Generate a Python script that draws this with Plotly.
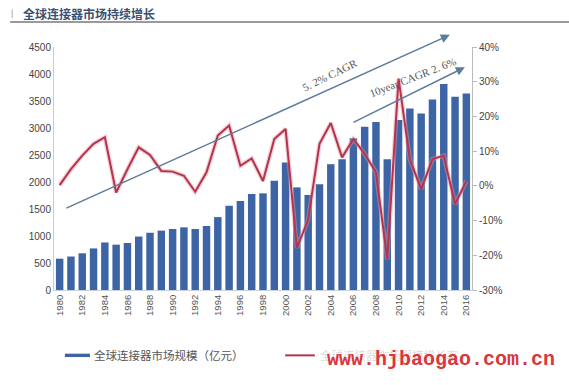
import plotly.graph_objects as go

years = list(range(1980, 2017))
market_size = [580, 620, 680, 770, 880, 840, 870, 990, 1060, 1100,
               1130, 1160, 1130, 1185, 1350, 1560, 1650, 1780, 1790, 2025,
               2360, 1900, 1760, 1960, 2330, 2420, 2810, 3025, 3110, 2420,
               3150, 3360, 3270, 3530, 3815, 3580, 3640]
growth = [0.2, 4.8, 8.7, 12.1, 14.0, -1.9, 4.8, 11.1, 8.9, 4.3,
          4.1, 2.9, -1.7, 3.9, 14.5, 17.4, 5.8, 7.9, 1.4, 13.5,
          16.4, -17.9, -9.7, 12.1, 18.1, 8.2, 13.5, 9.2, 3.9, -21.2,
          30.9, 7.7, -1.0, 7.7, 8.7, -5.3, 1.4]
tick_years = list(range(1980, 2017, 2))
tick_text = [str(y) for y in tick_years]
left_ticks = list(range(0, 4501, 500))
right_ticks = list(range(-30, 41, 10))
right_text = [f"{v}%" for v in right_ticks]
bar_name = "全球连接器市场规模（亿元）"
line_name = "全球连接器市场规模增长率"

fig = go.Figure()
fig.add_trace(go.Bar(x=years, y=market_size, name=bar_name,
                     marker=dict(color="#3d65a5", line=dict(width=0)), yaxis="y"))
fig.add_trace(go.Scatter(x=years, y=growth, mode="lines", yaxis="y2", hoverinfo="skip",
                         line=dict(color="rgba(235,150,165,0.45)", width=4.5)))
fig.add_trace(go.Scatter(x=years, y=growth, mode="lines", yaxis="y2", name=line_name,
                         line=dict(color="#b3344e", width=2)))

fig.update_layout(
    width=569, height=385,
    margin=dict(l=54, r=97, t=47, b=95, autoexpand=False),
    paper_bgcolor="white", plot_bgcolor="white",
    font=dict(family="Liberation Sans, Noto Sans CJK SC", size=10, color="#444"),
    bargap=0.34,
    showlegend=False,
    xaxis=dict(range=[1979.5, 2016.5], tickmode="array", tickvals=tick_years, ticktext=tick_text,
               tickangle=-90, tickfont=dict(size=9.5, color="#555"), showline=True,
               linecolor="#c9d2e2", linewidth=1, showgrid=False, ticks="", zeroline=False),
    yaxis=dict(range=[0, 4500], tickvals=left_ticks, showgrid=False, zeroline=False,
               showline=True, linecolor="#cccccc", linewidth=1, ticks="",
               tickfont=dict(size=10, color="#444")),
    yaxis2=dict(range=[-30, 40], tickmode="array", tickvals=right_ticks, ticktext=right_text,
                overlaying="y", side="right", showgrid=False, zeroline=False, showline=True,
                linecolor="#bbbbbb", ticks="outside", ticklen=4, tickcolor="#bbbbbb",
                tickfont=dict(size=10, color="#444")),
)

# title underline and marker
fig.add_shape(type="line", xref="paper", yref="paper", x0=-0.105, x1=1.24, y0=1.103, y1=1.103,
              line=dict(color="#9a9a9a", width=2))
fig.add_shape(type="line", xref="paper", yref="paper", x0=-0.1, x1=-0.1, y0=1.12, y1=1.155,
              line=dict(color="#aaaaaa", width=1))

# manual legend symbols
fig.add_shape(type="rect", xref="paper", yref="paper", x0=0.026, x1=0.086, y0=-0.276, y1=-0.262,
              fillcolor="#3d65a5", line=dict(width=0))
fig.add_shape(type="line", xref="paper", yref="paper", x0=0.553, x1=0.624, y0=-0.269, y1=-0.269,
              line=dict(color="#b3344e", width=2))

annotations = [
    dict(text="<b>全球连接器市场持续增长</b>", xref="paper", yref="paper", x=-0.08, y=1.136,
         xanchor="left", yanchor="middle", showarrow=False,
         font=dict(size=12, color="#3c5072", family="Noto Sans CJK SC")),
    dict(x=0.947, y=1.05, xref="paper", yref="paper", ax=-385, ay=174, text="",
         showarrow=True, arrowhead=2, arrowsize=1.2, arrowwidth=1.5, arrowcolor="#5d7c9c"),
    dict(x=0.983, y=0.917, xref="paper", yref="paper", ax=-113, ay=56, text="",
         showarrow=True, arrowhead=2, arrowsize=1.2, arrowwidth=1.5, arrowcolor="#5d7c9c"),
    dict(text="5. 2% CAGR", xref="paper", yref="paper", x=0.66, y=0.885, showarrow=False,
         xanchor="center", yanchor="middle",
         textangle=-26, font=dict(size=11, color="#555", family="Liberation Serif")),
    dict(text="10year CAGR 2. 6%", xref="paper", yref="paper", x=0.86, y=0.875, showarrow=False,
         xanchor="center", yanchor="middle",
         textangle=-21, font=dict(size=11, color="#555", family="Liberation Serif")),
    dict(text=bar_name, xref="paper", yref="paper", x=0.091, y=-0.269, xanchor="left",
         yanchor="middle", showarrow=False,
         font=dict(size=11.5, color="#555", family="Noto Sans CJK SC")),
    dict(text=line_name, xref="paper", yref="paper", x=0.632, y=-0.269, xanchor="left",
         yanchor="middle", showarrow=False,
         font=dict(size=11.5, color="#dddddd", family="Noto Sans CJK SC")),
    dict(text="<b>www.hjbaogao.com.cn</b>", xref="paper", yref="paper", x=0.925, y=-0.285,
         xanchor="center", yanchor="middle", showarrow=False,
         font=dict(size=20, color="#d9363e", family="Liberation Mono")),
]
fig.update_layout(annotations=annotations)

fig.write_html("out.html", config={"displayModeBar": False},
               post_script="document.body.style.margin='0';document.body.style.overflow='hidden';")
